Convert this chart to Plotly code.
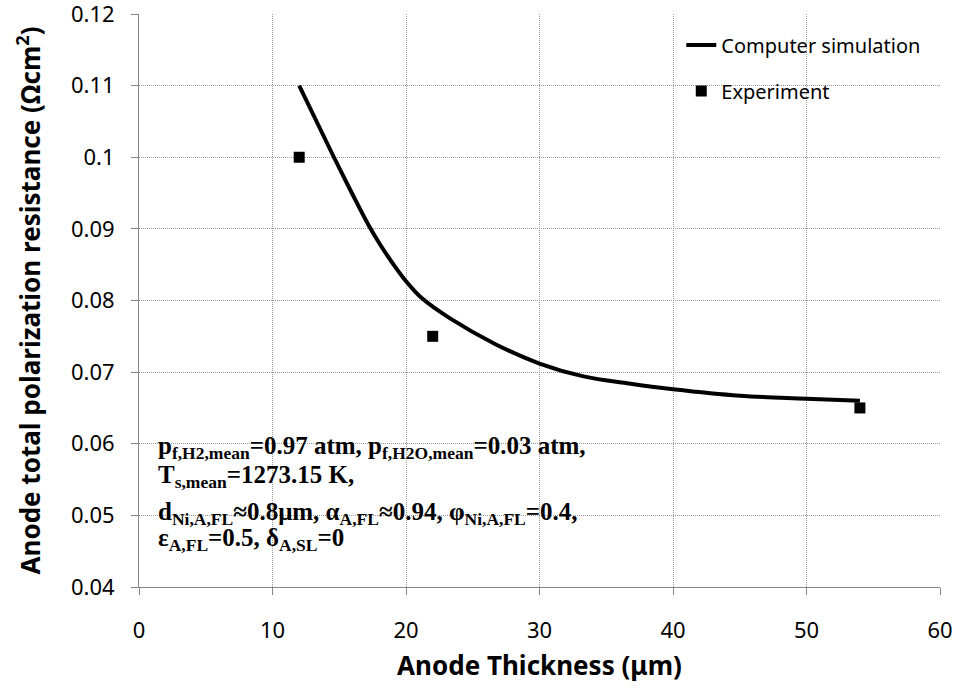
import plotly.graph_objects as go

# Computer simulation curve
sim_thickness = [12, 14.6, 16, 17.2, 18, 19, 20, 21.2, 23.3, 26.7, 30, 33.3, 36.7, 40, 45, 50, 54]
sim_resistance = [0.1100, 0.1000, 0.0948, 0.0905, 0.0880, 0.0852, 0.0827, 0.0803, 0.0775, 0.0739,
                  0.0712, 0.0694, 0.0684, 0.0676, 0.0667, 0.0663, 0.0660]

# Experiment points
exp_thickness = [12, 22, 54]
exp_resistance = [0.100, 0.075, 0.065]

x_ticks = [0, 10, 20, 30, 40, 50, 60]
x_tick_labels = ["0", "10", "20", "30", "40", "50", "60"]
y_ticks = [0.04, 0.05, 0.06, 0.07, 0.08, 0.09, 0.10, 0.11, 0.12]
y_tick_labels = ["0.04", "0.05", "0.06", "0.07", "0.08", "0.09", "0.1", "0.11", "0.12"]

note_lines = [
    "p<sub>f,H2,mean</sub>=0.97 atm, p<sub>f,H2O,mean</sub>=0.03 atm,",
    "T<sub>s,mean</sub>=1273.15 K,",
    "d<sub>Ni,A,FL</sub>≈0.8μm, α<sub>A,FL</sub>≈0.94, φ<sub>Ni,A,FL</sub>=0.4,",
    "ε<sub>A,FL</sub>=0.5, δ<sub>A,SL</sub>=0",
]
note_y = [0.274, 0.223, 0.158, 0.113]

fig = go.Figure()
fig.add_trace(go.Scatter(
    x=sim_thickness, y=sim_resistance, mode="lines", name="Computer simulation",
    line=dict(color="black", width=4, shape="spline", smoothing=1.0),
    legendgroup="a",
))
fig.add_trace(go.Scatter(
    x=exp_thickness, y=exp_resistance, mode="markers", name="Experiment",
    marker=dict(symbol="square", size=11, color="black"),
    legendgroup="b",
))

axis_common = dict(
    showline=True, linecolor="#868686", linewidth=1,
    ticks="outside", ticklen=7, tickcolor="#868686",
    showgrid=True, gridcolor="#9a9a9a", griddash="1px,1px", gridwidth=1,
    zeroline=False, automargin=False, ticklabeloverflow="allow",
    tickfont=dict(family="Noto Sans", size=22, color="black"),
)

fig.update_xaxes(
    range=[-0.00001, 60.00001], tickvals=x_ticks, ticktext=x_tick_labels,
    ticklabelstandoff=17,
    title=dict(text="<b>Anode Thickness (μm)</b>", standoff=13,
               font=dict(family="Noto Sans", size=26, color="black")),
    **axis_common,
)
fig.update_yaxes(
    range=[0.0399999, 0.1200001], tickvals=y_ticks, ticktext=y_tick_labels,
    ticklabelstandoff=12,
    title=dict(text="<b>Anode total polarization resistance (Ωcm<sup>2</sup>)</b>", standoff=22,
               font=dict(family="Noto Sans", size=26, color="black")),
    **axis_common,
)

for txt, yy in zip(note_lines, note_y):
    fig.add_annotation(
        text="<b>" + txt + "</b>", xref="paper", yref="paper",
        x=0.021, y=yy, xanchor="left", yanchor="top", showarrow=False,
        font=dict(family="Liberation Serif", size=25, color="black"),
    )

fig.update_layout(
    width=955, height=692,
    margin=dict(l=139, r=15, t=14, b=105),
    plot_bgcolor="white", paper_bgcolor="white",
    showlegend=True,
    legend=dict(x=0.677, y=0.980, xanchor="left", yanchor="top",
                bgcolor="rgba(0,0,0,0)", tracegroupgap=17,
                font=dict(family="Noto Sans", size=20, color="black")),
)

fig.write_html("out.html", config={"displayModeBar": False},
               post_script="document.body.style.margin='0';")
